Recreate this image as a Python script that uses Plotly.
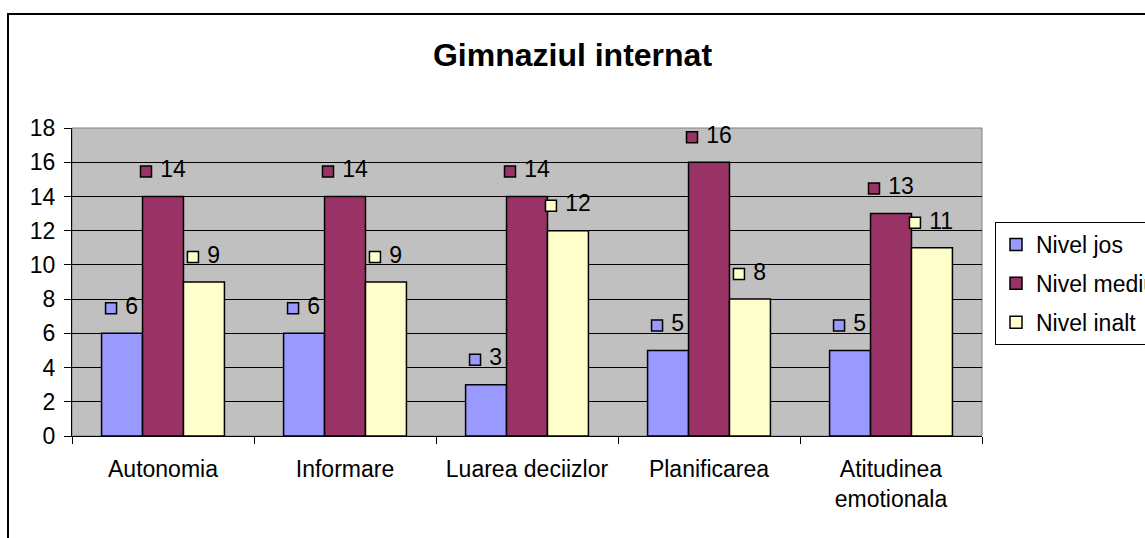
import plotly.graph_objects as go

categories = ["Autonomia", "Informare", "Luarea deciizlor", "Planificarea", "Atitudinea<br>emotionala"]
nivel_jos = [6, 6, 3, 5, 5]
nivel_mediu = [14, 14, 14, 16, 13]
nivel_inalt = [9, 9, 12, 8, 11]
series_names = ["Nivel jos", "Nivel mediu", "Nivel inalt"]
series_values = [nivel_jos, nivel_mediu, nivel_inalt]
colors = ["#9999FF", "#993366", "#FFFFCC"]
y_ticks = list(range(0, 19, 2))

W, H = 1145, 538
L, R, T, B = 72, 163, 128, 102
plot_w = W - L - R
plot_h = H - T - B
bargap = 0.325
cat_px = plot_w / len(categories)
ymax = 18
px_per_unit = plot_h / ymax
FONT = "Liberation Sans, Arial, sans-serif"

fig = go.Figure()
for name, vals, col in zip(series_names, series_values, colors):
    fig.add_trace(go.Bar(
        x=categories, y=vals, name=name, legendgroup=name,
        marker=dict(color=col, line=dict(color="black", width=1.5)),
    ))

# data labels with legend key squares
bw = (1 - bargap) / 3
for j, (name, vals, col) in enumerate(zip(series_names, series_values, colors)):
    xs, ys, txt = [], [], []
    for i, v in enumerate(vals):
        nd = len(str(v))
        off_px = -(20 + 12 * nd) / 2 + 5
        xs.append(i + (j - 1) * bw + off_px / cat_px)
        ys.append(v + 25 / px_per_unit)
        txt.append("\u00a0" + str(v))
    fig.add_trace(go.Scatter(
        x=xs, y=ys, xaxis="x2", mode="markers+text", text=txt,
        textposition="middle right",
        textfont=dict(family=FONT, size=23, color="black"),
        marker=dict(symbol="square", size=11, color=col, line=dict(color="black", width=1.5)),
        showlegend=False, hoverinfo="skip", cliponaxis=False,
    ))

fig.update_layout(
    width=W, height=H,
    margin=dict(l=L, r=R, t=T, b=B, autoexpand=False),
    paper_bgcolor="white", plot_bgcolor="#C0C0C0",
    barmode="group", bargap=bargap, bargroupgap=0,
    font=dict(family=FONT, size=23, color="black"),
    title=dict(text="<b>Gimnaziul internat</b>", x=572.5 / W,
               xanchor="center", y=1 - 55 / H, yanchor="middle",
               font=dict(family=FONT, size=32, color="black")),
    xaxis=dict(type="category", range=[-0.5, len(categories) - 0.5], tickson="boundaries",
               ticks="outside", ticklen=7, tickcolor="black", showline=True, linecolor="black",
               linewidth=1, showgrid=False, ticklabelstandoff=12,
               tickfont=dict(family=FONT, size=23)),
    xaxis2=dict(overlaying="x", range=[-0.5, len(categories) - 0.5], visible=False),
    yaxis=dict(range=[0, ymax], tickvals=y_ticks, ticks="outside", ticklen=7, tickcolor="black",
               showline=True, linecolor="black", linewidth=1, gridcolor="black", gridwidth=1,
               zeroline=False, ticklabelstandoff=4, tickfont=dict(family=FONT, size=23)),
    legend=dict(x=(995 - L) / plot_w, xanchor="left", y=(H - B - 222) / plot_h, yanchor="top",
                bordercolor="black", borderwidth=1, bgcolor="white",
                font=dict(family=FONT, size=23), tracegroupgap=6),
    showlegend=True,
)

# outer chart border (extends beyond the visible window on right and bottom)
fig.add_shape(type="rect", xref="paper", yref="paper",
              x0=(8 - L) / plot_w, x1=(W + 40 - L) / plot_w,
              y0=-(B + 40) / plot_h, y1=1 + (T - 14) / plot_h,
              line=dict(color="black", width=2), fillcolor="rgba(0,0,0,0)", layer="below")
# plot area top/right border in gray
fig.add_shape(type="rect", xref="paper", yref="paper", x0=0, x1=1, y0=0, y1=1,
              line=dict(color="#808080", width=1), layer="below")

fig.write_html("out.html", config={"displayModeBar": False},
               post_script="document.body.style.margin='0';")
